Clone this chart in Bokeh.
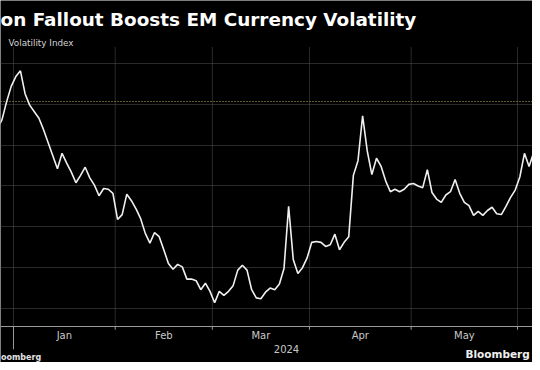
import numpy as np
import pandas as pd
from bokeh.plotting import figure
from bokeh.models import ColumnDataSource, Range1d
from bokeh.core.properties import value
from bokeh.embed import file_html
from bokeh.resources import INLINE

# ---------------- data ----------------
title_text = "on Fallout Boosts EM Currency Volatility"
subtitle_text = "Volatility Index"
source_text = "oomberg"
brand_text = "Bloomberg"
year_label = "2024"
month_labels = ["Jan", "Feb", "Mar", "Apr", "May"]

# EM FX volatility index, business days from 2023-12-26
vol = [
    8.20, 8.31, 8.53, 8.72,
    8.84, 8.91, 8.63, 8.49, 8.41, 8.33, 8.19, 8.03, 7.87, 7.71,
    7.90, 7.78, 7.67, 7.54, 7.63, 7.73, 7.60, 7.51, 7.38, 7.47,
    7.46, 7.41, 7.09, 7.15, 7.40, 7.32, 7.22, 7.10, 6.92, 6.80,
    6.93, 6.88, 6.72, 6.55, 6.48, 6.54, 6.51, 6.36, 6.36, 6.34,
    6.23, 6.31, 6.21, 6.07, 6.21, 6.16, 6.21, 6.28, 6.47, 6.53,
    6.47, 6.23, 6.13, 6.12, 6.20, 6.25, 6.23, 6.30, 6.49, 7.25,
    6.60, 6.43, 6.50, 6.62, 6.81, 6.82, 6.81, 6.76, 6.78, 6.91,
    6.72, 6.81, 6.88, 7.63, 7.81, 8.36, 7.93, 7.64, 7.84, 7.74,
    7.56, 7.43, 7.46, 7.43, 7.46, 7.52, 7.53, 7.50, 7.48, 7.70,
    7.42, 7.34, 7.30, 7.39, 7.43, 7.58, 7.41, 7.30, 7.26, 7.14,
    7.19, 7.14, 7.20, 7.24, 7.16, 7.15, 7.25, 7.36, 7.45, 7.61,
    7.90, 7.74, 7.91, 8.20, 8.54,
]
grid_values = [6.0, 6.5, 7.0, 7.5, 8.0, 8.5, 9.0]
latest_value = vol[-1]

dates = pd.bdate_range("2023-12-26", "2024-06-10")
dates = dates[dates != pd.Timestamp("2024-01-01")]
first_2024 = int(np.argmax(dates.year == 2024))
pos = np.arange(len(dates)) - first_2024

src = ColumnDataSource(dict(pos=pos, vol=vol[:len(pos)]))

# month boundaries (between last business day of one month and first of next)
bounds = []
for m in range(1, 7):
    idx = int(np.argmax((dates.year == 2024) & (dates.month == m)))
    bounds.append(pos[idx] - 0.5)
mids = [(bounds[k] + bounds[k + 1]) / 2 for k in range(len(month_labels))]

# ---------------- layout ----------------
X0, X1 = -3.311, 111.74
Y0, Y1 = 5.3388, 9.7714
BASE = 5.78      # axis baseline
TOP = 9.196      # top of plotting area
YEAR_TICK_END = 5.50
FOOT_Y = 5.406
BRAND_Y = 5.44

p = figure(width=532, height=362, x_range=Range1d(X0, X1), y_range=Range1d(Y0, Y1),
           x_axis_type=None, y_axis_type=None, toolbar_location=None,
           output_backend="svg", min_border=0)
p.background_fill_color = "#000000"
p.border_fill_color = "#000000"
p.outline_line_color = None

FONT = value("DejaVu Sans")

# horizontal gridlines
p.hspan(y=grid_values, line_color="#555555", line_width=1, line_dash="1 1")
# vertical gridlines at month boundaries
p.segment(x0=bounds, y0=[BASE] * len(bounds), x1=bounds, y1=[TOP] * len(bounds),
          line_color="#555555", line_width=1, line_dash="1 1")
# latest value reference line
p.hspan(y=[latest_value], line_color="#c2b25e", line_width=1, line_dash="1 2")

# axis baseline and ticks
p.hspan(y=[BASE], line_color="#9a9a9a", line_width=1)
p.segment(x0=bounds, y0=[BASE] * len(bounds), x1=bounds, y1=[BASE - 0.04] * len(bounds),
          line_color="#9a9a9a", line_width=1)
p.segment(x0=[bounds[0]], y0=[BASE], x1=[bounds[0]], y1=[YEAR_TICK_END],
          line_color="#9a9a9a", line_width=1)

# data line
p.line(x="pos", y="vol", source=src, line_color="#f0f0f0", line_width=1.6)

# texts
p.text(x=mids, y=[5.669] * len(mids), text=month_labels, text_font=FONT,
       text_font_size=value("10px"), text_color="#c8c8c8",
       text_align="center", text_baseline="middle")
p.text(x=[58.54], y=[5.498], text=[year_label], text_font=FONT,
       text_font_size=value("10px"), text_color="#c8c8c8",
       text_align="center", text_baseline="middle")
p.text(x=[X0], y=[9.533], text=[title_text], text_font=FONT,
       text_font_size=value("18.4px"), text_font_style="bold", text_color="#ffffff",
       text_align="left", text_baseline="alphabetic")
p.text(x=[-1.581], y=[9.257], text=[subtitle_text], text_font=FONT,
       text_font_size=value("8.8px"), text_color="#d4d4d4",
       text_align="left", text_baseline="alphabetic")
p.text(x=[X0 + 0.1], y=[FOOT_Y], text=[source_text], text_font=FONT,
       text_font_size=value("8px"), text_font_style="bold", text_color="#e0e0e0",
       text_align="left", text_baseline="alphabetic")
p.text(x=[X1 - 0.6], y=[BRAND_Y], text=[brand_text], text_font=FONT,
       text_font_size=value("10.5px"), text_font_style="bold", text_color="#f0f0f0",
       text_align="right", text_baseline="alphabetic")

open("out.html", "w").write(file_html(p, INLINE))
